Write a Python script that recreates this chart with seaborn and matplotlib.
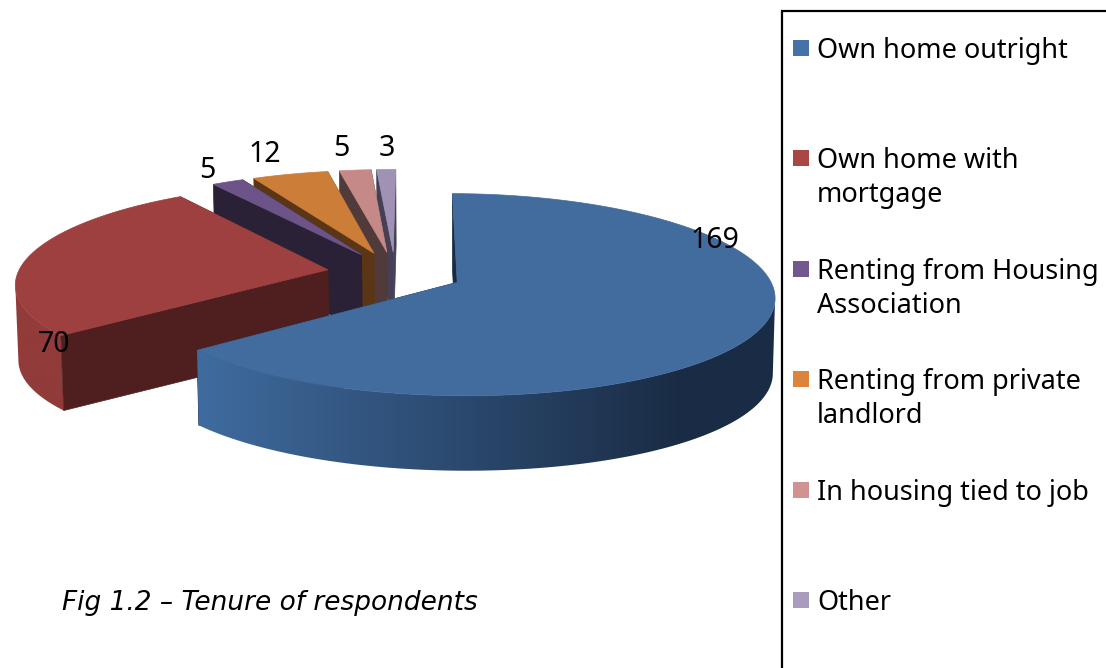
import numpy as np
import seaborn as sns
import matplotlib.pyplot as plt
from matplotlib.patches import Polygon, Rectangle

# Tenure of respondents
categories = ['Own home outright', 'Own home with\nmortgage', 'Renting from Housing\nAssociation',
              'Renting from private\nlandlord', 'In housing tied to job', 'Other']
values = [169, 70, 5, 12, 5, 3]
caption = 'Fig 1.2 \u2013 Tenure of respondents'

top_colors = ['#426B9E', '#9E403F', '#6D5488', '#CC7D38', '#C58A88', '#9F92B4']
legend_colors = ['#4672A8', '#AA4644', '#71588F', '#DB843D', '#D09391', '#A99BBD']
wall_colors = ['#1A2C45', '#4F1F1F', '#2A2136', '#5A3616', '#513A3A', '#454056']
side_colors = ['#3F6B9E', '#913B3A', '#5A4570', '#A86830', '#A57270', '#85799A']

sns.set_theme(style='white')
plt.rcParams['font.family'] = ['Noto Sans', 'DejaVu Sans']

fig, ax = plt.subplots(figsize=(11.06, 6.68), dpi=100)
fig.subplots_adjust(0, 0, 1, 1)
ax.axis('off')

# projection of the exploded pie, axes are in pixels
cx, cy = 395, 273
rx, ry = 310, 97.3
explode = 0.22
depth = 75
first_angle = 0.5


def project(X, Z):
    X, Z = np.asarray(X), np.asarray(Z)
    return cx + X * rx / (1 - 0.13 * Z), cy + ry * Z / (1 - 0.12 * Z)


def drop(x, y):
    return x + (cx + 60 - x) * 0.007, y + depth


def wall(x0, y0, x1, y1, color, z):
    bx0, by0 = drop(x0, y0)
    bx1, by1 = drop(x1, y1)
    ax.fill([x0, x1, bx1, bx0], [y0, y1, by1, by0], color=color, lw=0.5, zorder=z)


bounds = np.concatenate([[0], np.cumsum(values)]) * 360 / sum(values) + first_angle
xs = np.linspace(0, 1106, 553)

# back slices first, the big front one last
for i in range(len(values) - 1, -1, -1):
    z = 10 * (len(values) - i)
    a0, a1 = np.radians(bounds[i]), np.radians(bounds[i + 1])
    mid = (a0 + a1) / 2
    ox, oz = explode * np.sin(mid), -explode * np.cos(mid)
    t = np.linspace(a0, a1, max(int(bounds[i + 1] - bounds[i]) * 4, 6))
    arc_x, arc_y = project(ox + np.sin(t), oz - np.cos(t))
    ap_x, ap_y = project(ox, oz)

    wall(ap_x, ap_y, arc_x[-1], arc_y[-1], wall_colors[i], z)

    # rim, only the part facing the viewer, shaded along the screen
    i1 = np.argmin(arc_x)
    i0 = np.argmax(arc_x[:i1 + 1])
    if i0 < i1:
        shades = np.array(sns.blend_palette([side_colors[i], wall_colors[i]], 256))
        idx = (np.clip((xs - 200) / 480, 0, 1) * 255).astype(int)
        im = ax.imshow(shades[idx][None, :, :], extent=(0, 1106, 668, 0), aspect='auto',
                       interpolation='bilinear', zorder=z + 1)
        low_x, low_y = drop(arc_x[i0:i1 + 1], arc_y[i0:i1 + 1])
        rim = Polygon(np.c_[np.r_[arc_x[i0:i1 + 1], low_x[::-1]], np.r_[arc_y[i0:i1 + 1], low_y[::-1]]],
                      closed=True, transform=ax.transData)
        im.set_clip_path(rim)

    wall(ap_x, ap_y, arc_x[0], arc_y[0], wall_colors[i], z + 2)

    ax.fill(np.r_[ap_x, arc_x], np.r_[ap_y, arc_y], color=top_colors[i], lw=0.5, zorder=z + 3)

ax.set_xlim(0, 1106)
ax.set_ylim(668, 0)

# data labels
label_xy = [(715, 240), (54, 345), (207, 171), (265, 155), (341, 149), (387, 149)]
for v, (x, y) in zip(values, label_xy):
    ax.text(x, y, str(v), ha='center', va='center', fontsize=20.5, color='black', zorder=100)

# legend box runs off the right and bottom of the picture
ax.add_patch(Rectangle((782, 10.5), 400, 700, fc='white', ec='black', lw=1.6, zorder=90))
for i, name in enumerate(categories):
    y = 48 + 110.4 * i
    ax.add_patch(Rectangle((793, y - 8), 16, 16, fc=legend_colors[i], ec='none', zorder=91))
    ax.text(817, y - 11, name, ha='left', va='top', fontsize=19.5, color='black',
            linespacing=1.29, zorder=100)

ax.text(62, 603, caption, ha='left', va='center', fontsize=19, style='italic', color='black',
        family='DejaVu Sans', zorder=100)

fig.savefig('out.png', dpi=100)
